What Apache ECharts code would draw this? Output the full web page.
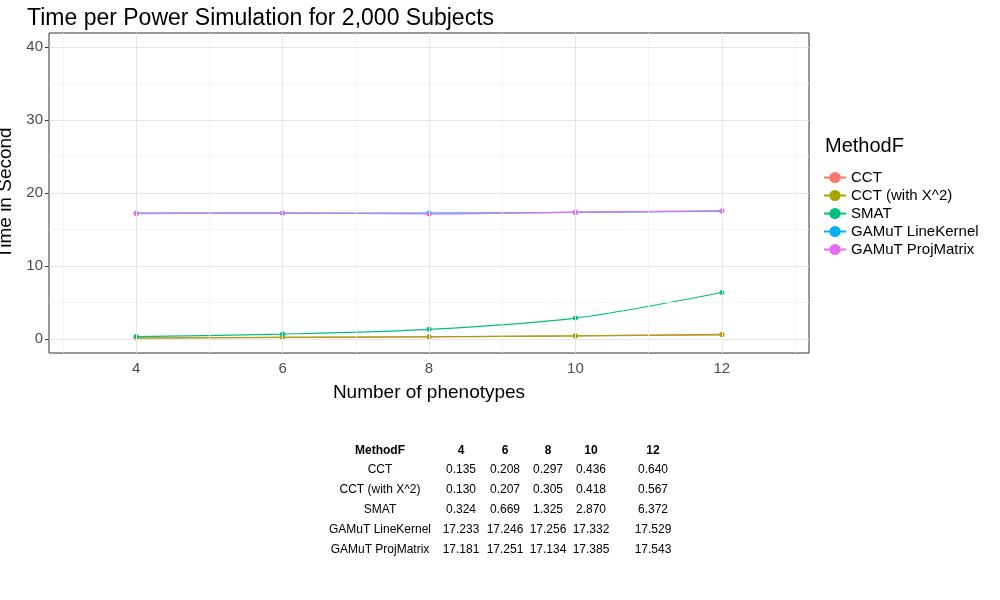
<!DOCTYPE html>
<html>
<head>
<meta charset="utf-8">
<script src="https://cdn.jsdelivr.net/npm/echarts@6/dist/echarts.min.js"></script>
<style>body{margin:0;background:#fff}#main{width:1000px;height:600px}</style>
</head>
<body>
<div id="main"></div>
<script>
var phenotypes = [4, 6, 8, 10, 12];
var methods = ['CCT', 'CCT (with X^2)', 'SMAT', 'GAMuT LineKernel', 'GAMuT ProjMatrix'];
var cct = [0.135, 0.208, 0.297, 0.436, 0.640];
var cctX2 = [0.130, 0.207, 0.305, 0.418, 0.567];
var smat = [0.324, 0.669, 1.325, 2.870, 6.372];
var lineKernel = [17.233, 17.246, 17.256, 17.332, 17.529];
var projMatrix = [17.181, 17.251, 17.134, 17.385, 17.543];
var colors = ['#F8766D', '#A3A500', '#00BF7D', '#00B0F6', '#E76BF3'];
var yMajor = [0, 10, 20, 30, 40];
var yMinor = [5, 15, 25, 35];
var xMajor = [4, 6, 8, 10, 12];
var xMinor = [3, 5, 7, 9, 11, 13];

var values = [cct, cctX2, smat, lineKernel, projMatrix];
var font = 'Liberation Sans, Arial, sans-serif';

var series = methods.map(function(name, i){
  return {
    name: name, type: 'line', smooth: 0.3, symbol: 'circle', symbolSize: 5,
    itemStyle: {color: colors[i]}, lineStyle: {width: 1.2},
    data: phenotypes.map(function(p, j){ return [p, values[i][j]]; })
  };
});

// grid lines drawn as mark lines on a hidden series
var grid = [];
yMinor.forEach(function(v){ grid.push({yAxis: v, lineStyle: {color: '#f2f2f2', width: 0.8, type: 'solid'}}); });
xMinor.forEach(function(v){ grid.push({xAxis: v, lineStyle: {color: '#f2f2f2', width: 0.8, type: 'solid'}}); });
yMajor.forEach(function(v){ grid.push({yAxis: v, lineStyle: {color: '#e6e6e6', width: 1, type: 'solid'}}); });
xMajor.forEach(function(v){ grid.push({xAxis: v, lineStyle: {color: '#e6e6e6', width: 1, type: 'solid'}}); });
series.unshift({
  type: 'line', data: [], silent: true, z: 0,
  markLine: {silent: true, symbol: 'none', label: {show: false}, animation: false, data: grid}
});

// table
var graphics = [];
var colX = [380, 461, 505, 548, 591, 653];
var header = ['MethodF'].concat(phenotypes.map(String));
header.forEach(function(h, c){
  graphics.push({type: 'text', x: colX[c], y: 445, style: {text: h, font: 'bold 12px ' + font, fill: '#000', align: 'center'}});
});
methods.forEach(function(m, r){
  var row = [m].concat(values[r].map(function(v){ return v.toFixed(3); }));
  row.forEach(function(t, c){
    graphics.push({type: 'text', x: colX[c], y: 464 + r * 20, style: {text: t, font: '12px ' + font, fill: '#000', align: 'center'}});
  });
});
graphics.push({type: 'text', x: 825, y: 136, style: {text: 'MethodF', font: '20px ' + font, fill: '#000'}});

var chart = echarts.init(document.getElementById('main'));
chart.setOption({
  animation: false,
  color: colors,
  title: {text: 'Time per Power Simulation for 2,000 Subjects', left: 22, top: 2,
    textStyle: {fontFamily: font, fontSize: 23, fontWeight: 'normal', color: '#000'}},
  grid: {left: 49, top: 33, width: 760, height: 320, containLabel: false, outerBoundsMode: 'none',
    show: true, borderColor: '#333', borderWidth: 1, backgroundColor: '#fff'},
  legend: {orient: 'vertical', left: 818, top: 165, itemGap: 3, itemWidth: 22, itemHeight: 14,
    data: methods, textStyle: {fontFamily: font, fontSize: 15, color: '#000'}},
  xAxis: {type: 'value', min: 2.81, max: 13.19, name: 'Number of phenotypes', nameLocation: 'middle', nameGap: 30,
    nameTextStyle: {fontFamily: font, fontSize: 19, color: '#000'},
    splitLine: {show: false}, axisLine: {show: false},
    axisTick: {show: true, customValues: xMajor, lineStyle: {color: '#333'}, length: 4},
    axisLabel: {customValues: xMajor, fontFamily: font, fontSize: 15, color: '#4d4d4d', margin: 8}},
  yAxis: {type: 'value', min: -1.92, max: 41.92, name: 'Time in Second', nameLocation: 'middle', nameGap: 30,
    nameTextStyle: {fontFamily: font, fontSize: 19, color: '#000'},
    splitLine: {show: false}, axisLine: {show: false},
    axisTick: {show: true, customValues: yMajor, lineStyle: {color: '#333'}, length: 4},
    axisLabel: {customValues: yMajor, fontFamily: font, fontSize: 15, color: '#4d4d4d', margin: 6}},
  graphic: graphics,
  series: series
});
</script>
</body>
</html>
